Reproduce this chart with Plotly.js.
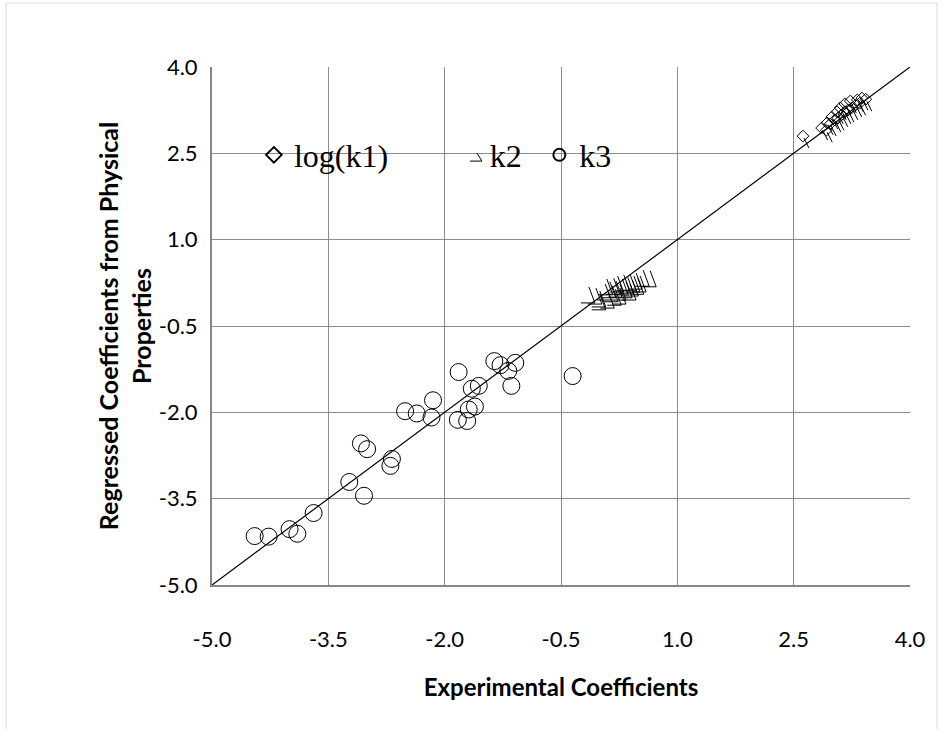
<!DOCTYPE html>
<html><head><meta charset="utf-8">
<script src="https://cdn.plot.ly/plotly-3.0.1.min.js"></script>
<style>html,body{margin:0;padding:0;background:#fff}#chart{width:948px;height:729px}</style>
</head><body><div id="chart"></div>
<script>
// log(k1): experimental vs regressed
const k1X = [2.62, 2.86, 2.93, 2.99, 3.06, 3.10, 3.16, 3.23, 3.32, 3.38, 2.97, 3.03, 3.12, 3.20, 3.25, 3.30, 3.07, 3.16, 2.92, 3.35, 3.43];
const k1Y = [2.80, 2.94, 3.03, 3.13, 3.22, 3.29, 3.36, 3.41, 3.43, 3.46, 3.01, 3.08, 3.17, 3.25, 3.29, 3.34, 3.11, 3.22, 2.90, 3.37, 3.44];
// k2
const k2X = [-0.14, -0.05, 0.00, 0.07, 0.09, 0.13, 0.16, 0.18, 0.21, 0.23, 0.26, 0.29, 0.31, 0.34, 0.36, 0.39, 0.42, 0.44, 0.47, 0.49, 0.52, 0.56, 0.65, 0.00, 0.11, 0.20, 0.26, 0.39];
const k2Y = [0.04, 0.02, -0.03, 0.09, 0.18, 0.13, 0.06, 0.19, 0.14, 0.23, 0.09, 0.18, 0.25, 0.13, 0.21, 0.26, 0.16, 0.23, 0.28, 0.19, 0.23, 0.33, 0.32, -0.08, -0.05, 0.00, 0.02, 0.09];
// k3
const k3X = [-4.45, -4.27, -4.00, -3.90, -3.69, -3.23, -3.04, -3.08, -3.00, -2.68, -2.70, -2.51, -2.36, -2.15, -2.17, -1.82, -1.83, -1.71, -1.69, -1.61, -1.65, -1.56, -1.36, -1.28, -1.18, -1.09, -1.14, -0.35];
const k3Y = [-4.15, -4.16, -4.03, -4.11, -3.75, -3.21, -3.45, -2.54, -2.64, -2.81, -2.93, -1.98, -2.02, -1.79, -2.09, -1.30, -2.13, -2.15, -1.95, -1.90, -1.59, -1.54, -1.11, -1.18, -1.28, -1.14, -1.54, -1.37];
// 1:1 line
const lineX = [-5, 4];
const lineY = [-5, 4];
// ticks
const tickVals = [-5.0, -3.5, -2.0, -0.5, 1.0, 2.5, 4.0];
const tickText = ['-5.0', '-3.5', '-2.0', '-0.5', '1.0', '2.5', '4.0'];

const sansFont = 'Lato, "Open Sans", sans-serif';
const serifFont = '"Liberation Serif", "Times New Roman", serif';

const traces = [
  {x: lineX, y: lineY, mode: 'lines', line: {color: '#000', width: 1.2}, showlegend: false, hoverinfo: 'skip'},
  {x: k1X, y: k1Y, mode: 'markers', name: 'log(k1)', legend: 'legend',
   marker: {symbol: 'diamond-open', size: 9, color: '#000', line: {color: '#000', width: 1}}},
  {x: k2X, y: k2Y, mode: 'markers', name: 'k2', legend: 'legend2',
   marker: {symbol: 'line-nw-open', size: 10, color: 'rgba(0,0,0,0)', opacity: 0, line: {color: 'rgba(0,0,0,0)', width: 1}}},
  {x: k3X, y: k3Y, mode: 'markers', name: 'k3', legend: 'legend3',
   marker: {symbol: 'circle-open', size: 17, color: '#000', line: {color: '#000', width: 1}}}
];

const k2Glyph = 'M 0,8 L 6,-8 L -8,-8';
const shapes = [];
k2X.forEach((xv, i) => {
  shapes.push({type: 'path', xref: 'x', yref: 'y', xsizemode: 'pixel', ysizemode: 'pixel',
    xanchor: xv, yanchor: k2Y[i], path: k2Glyph, line: {color: '#000', width: 1}});
});
k1X.forEach((xv, i) => {
  shapes.push({type: 'path', xref: 'x', yref: 'y', xsizemode: 'pixel', ysizemode: 'pixel',
    xanchor: xv, yanchor: k1Y[i], path: 'M 1,-2 L 6,-12', line: {color: '#000', width: 1}});
});
// k2 legend symbol (clipped glyph as in the original legend)
shapes.push({type: 'path', xref: 'paper', yref: 'paper', xsizemode: 'pixel', ysizemode: 'pixel',
  xanchor: 0.381, yanchor: 0.828, path: 'M -1,3 L 4,-5 L -8,-5', line: {color: '#000', width: 1}});
// chart area border
shapes.push({type: 'rect', xref: 'paper', yref: 'paper', x0: -0.2951, x1: 1.0387, y0: -0.32, y1: 1.1236,
  line: {color: '#d9d9d9', width: 1}, fillcolor: 'rgba(0,0,0,0)', layer: 'below'});

const legendBase = {orientation: 'h', yanchor: 'middle', xanchor: 'left', y: 0.83,
  bgcolor: 'rgba(0,0,0,0)', borderwidth: 0, itemsizing: 'constant',
  font: {family: serifFont, size: 32, color: '#000'}};

const layout = {
  width: 948, height: 729, autosize: false,
  margin: {l: 212, r: 38, t: 67, b: 144},
  paper_bgcolor: '#fff', plot_bgcolor: '#fff',
  showlegend: true,
  legend: Object.assign({}, legendBase, {x: 0.060}),
  legend2: Object.assign({}, legendBase, {x: 0.3405}),
  legend3: Object.assign({}, legendBase, {x: 0.469}),
  xaxis: {range: [-5, 4], tickvals: tickVals, ticktext: tickText, showgrid: true, gridcolor: '#8c8c8c', gridwidth: 1,
    zeroline: false, showline: true, linecolor: '#868686', linewidth: 2, ticks: '', ticklabelstandoff: 34,
    tickfont: {family: sansFont, size: 22, color: '#000'},
    title: {text: 'Experimental Coefficients', standoff: 28, font: {family: sansFont, size: 24, color: '#000', weight: 'bold'}},
    automargin: false, fixedrange: true},
  yaxis: {range: [-5, 4], tickvals: tickVals, ticktext: tickText, showgrid: true, gridcolor: '#8c8c8c', gridwidth: 1,
    zeroline: false, showline: true, linecolor: '#868686', linewidth: 2, ticks: '', ticklabelstandoff: 8,
    tickfont: {family: sansFont, size: 22, color: '#000'},
    title: {text: 'Regressed Coefficients from Physical<br>Properties', standoff: 0, font: {family: sansFont, size: 25, color: '#000', weight: 'bold'}},
    automargin: false, fixedrange: true},
  shapes: shapes
};

Plotly.newPlot('chart', traces, layout, {displayModeBar: false});
</script>
</body></html>
